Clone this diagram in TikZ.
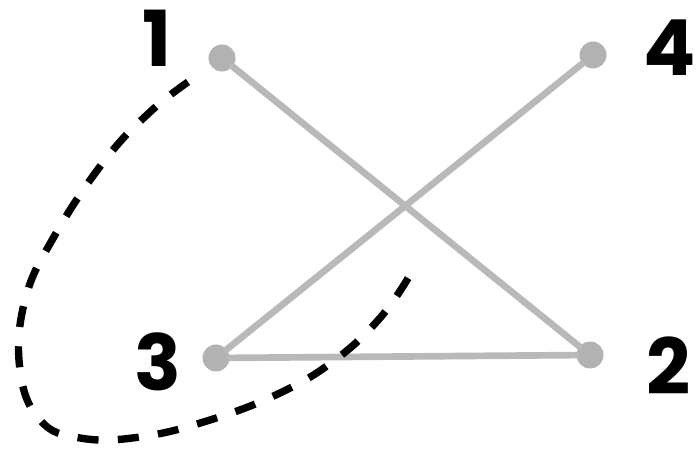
\documentclass[tikz,border=0pt]{standalone}
\usepackage{fontspec}
\setmainfont{Poppins}
\usepackage{tikz}

\begin{document}
\begin{tikzpicture}[
    x=0.02cm, y=-0.02cm,
    vertex/.style={circle, fill=gray!60, minimum size=0.54cm, inner sep=0pt},
    edge/.style={line width=3.8pt, draw=gray!55, line cap=round},
    tag/.style={font=\fontsize{44}{44}\selectfont\bfseries, text=black},
    path/.style={line width=4.2pt, dash pattern=on 12pt off 11pt, black},
]
\useasboundingbox (0,0) rectangle (696,469);

% Vertices
\node[vertex] (v1) at (222,58) {};
\node[vertex] (v4) at (593,55) {};
\node[vertex] (v3) at (216,358) {};
\node[vertex] (v2) at (590,355) {};

% Labels
\node[tag] (l1) at (157,38) {1};
\node[tag] (l4) at (670,48) {4};
\node[tag] (l3) at (158,362) {3};
\node[tag] (l2) at (669,366) {2};

% Edges
\draw[edge] (v1) -- (v2);
\draw[edge] (v4) -- (v3);
\draw[edge] (v3) -- (v2);

% Dashed loop
\coordinate (start) at (188,82);
\coordinate (stop) at (410,275);
\draw[path] plot[smooth, tension=0.7] coordinates {(start) (150,112) (105,160) (55,235) (25,300) (20,370) (40,420) (80,438) (140,437) (210,420) (280,393) (335,360) (380,318) (stop)};

\end{tikzpicture}
\end{document}
